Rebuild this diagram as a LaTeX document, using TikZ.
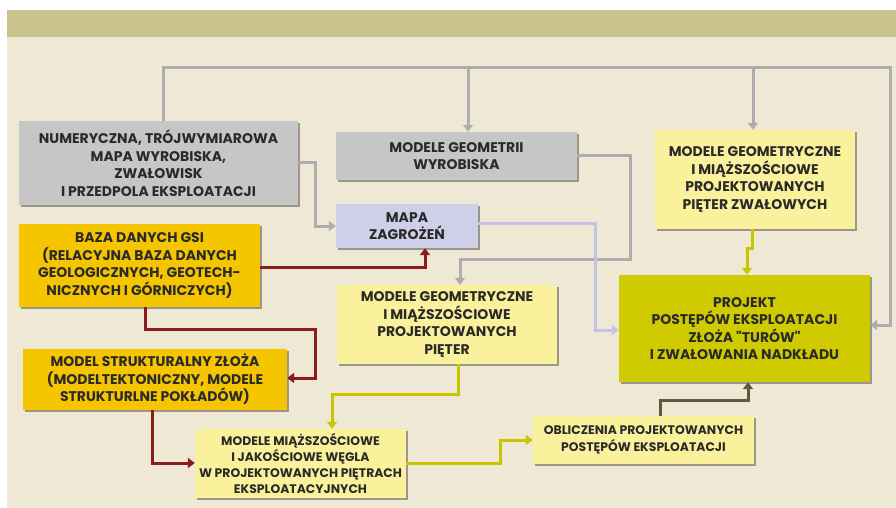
\documentclass[tikz,border=0pt]{standalone}
\usepackage{fontspec}
\setmainfont{Poppins}
\newfontfamily\plainq{Poppins}[Ligatures=NoCommon]
\usetikzlibrary{arrows.meta,shadows}
\definecolor{bgbeige}{HTML}{EEE8D5}
\definecolor{hdr}{HTML}{C9C48B}
\definecolor{grayb}{HTML}{C6C6C6}
\definecolor{lavb}{HTML}{CFCFEA}
\definecolor{goldb}{HTML}{F5C500}
\definecolor{lyelb}{HTML}{FAF19C}
\definecolor{oliveb}{HTML}{CFCB00}
\definecolor{grayc}{HTML}{ADADAD}
\definecolor{lavc}{HTML}{C3C3E3}
\definecolor{redc}{HTML}{8A1C1C}
\definecolor{yelc}{HTML}{C9C500}
\definecolor{olivec}{HTML}{5E5A3E}
\definecolor{txt}{HTML}{2A2A2A}
\newcommand{\sq}{{\plainq\bfseries "}}
\tikzset{
  box/.style={draw=none, inner sep=0pt, align=center, text=txt,
    font=\fontsize{14}{17.5}\selectfont\bfseries,
    drop shadow={shadow xshift=1.8pt, shadow yshift=-1.8pt, fill=black, opacity=0.35}},
  conn/.style={line width=3pt, -{Triangle[length=7pt,width=10pt]}},
  grayconn/.style={conn, draw=grayc},
  lavconn/.style={conn, draw=lavc},
  redconn/.style={conn, draw=redc},
  yelconn/.style={conn, draw=yelc},
  oliveconn/.style={conn, draw=olivec},
}
\begin{document}
\begin{tikzpicture}[x=1pt,y=-1pt]
\useasboundingbox (0,0) rectangle (896,508);
\fill[white] (0,0) rectangle (896,508);
\fill[bgbeige] (7,37) rectangle (896,508);
\fill[hdr] (7,10) rectangle (896,37);

% coordinates for connector bends
\coordinate (tl) at (163,68);
\coordinate (tr) at (890,68);
\coordinate (r1) at (890,325);
\coordinate (br1) at (468,68);
\coordinate (br2) at (753,68);
\coordinate (c1) at (315,162);
\coordinate (c2) at (630,155);
\coordinate (c2b) at (630,259);
\coordinate (c2c) at (460,259);
\coordinate (c3) at (595,223);
\coordinate (c3d) at (595,330);
\coordinate (c4) at (425,267);
\coordinate (c5a) at (145,329);
\coordinate (c5b) at (315,329);
\coordinate (c5c) at (315,378);
\coordinate (c6) at (152,463);
\coordinate (c7a) at (458,394);
\coordinate (c7b) at (332,394);
\coordinate (c8a) at (500,463);
\coordinate (c8b) at (500,440);
\coordinate (c9a) at (752,248);
\coordinate (c9b) at (747,248);
\coordinate (c10a) at (660,400);
\coordinate (c10b) at (748,400);

% boxes
\node[box, fill=grayb, minimum width=279, minimum height=84] (b1) at (158.5,163)
  {NUMERYCZNA, TRÓJWYMIAROWA\\MAPA WYROBISKA,\\ZWAŁOWISK\\I PRZEDPOLA EKSPLOATACJI};
\node[box, fill=grayb, minimum width=241, minimum height=48, font=\fontsize{14}{16.5}\selectfont\bfseries] (b2) at (456.5,156)
  {MODELE GEOMETRII\\WYROBISKA};
\node[box, fill=lavb, minimum width=142, minimum height=44] (b3) at (407,226)
  {MAPA\\ZAGROŻEŃ};
\node[box, fill=goldb, minimum width=241, minimum height=83] (b4) at (139.5,265.5)
  {BAZA DANYCH GSI\\(RELACYJNA BAZA DANYCH\\GEOLOGICZNYCH, GEOTECH-\\NICZNYCH I GÓRNICZYCH)};
\node[box, fill=goldb, minimum width=264, minimum height=61] (b5) at (155,379.5)
  {MODEL STRUKTURALNY ZŁOŻA\\(MODELTEKTONICZNY, MODELE\\STRUKTURLNE POKŁADÓW)};
\node[box, fill=lyelb, minimum width=220, minimum height=79] (b6) at (447,324.5)
  {MODELE GEOMETRYCZNE\\I MIĄŻSZOŚCIOWE\\PROJEKTOWANYCH\\PIĘTER};
\node[box, fill=lyelb, minimum width=211, minimum height=69, font=\fontsize{12.4}{16}\selectfont\bfseries] (b7) at (300.5,463.5)
  {MODELE MIĄŻSZOŚCIOWE\\I JAKOŚCIOWE WĘGLA\\W PROJEKTOWANYCH PIĘTRACH\\EKSPLOATACYJNYCH};
\node[box, fill=lyelb, minimum width=221, minimum height=48, font=\fontsize{12.4}{17}\selectfont\bfseries] (b8) at (643.5,440)
  {OBLICZENIA PROJEKTOWANYCH\\POSTĘPÓW EKSPLOATACJI};
\node[box, fill=lyelb, minimum width=200, minimum height=99] (b9) at (755,179.5)
  {MODELE GEOMETRYCZNE\\I MIĄŻSZOŚCIOWE\\PROJEKTOWANYCH\\PIĘTER ZWAŁOWYCH};
\node[box, fill=oliveb, minimum width=251, minimum height=107] (b10) at (744.5,328.5)
  {PROJEKT\\POSTĘPÓW EKSPLOATACJI\\ZŁOŻA \sq TURÓW\sq\\I ZWAŁOWANIA NADKŁADU};

% gray connectors
\draw[grayconn] (tl |- b1.north) -- (tl) -- (tr) -- (r1) -- (r1 -| b10.east);
\draw[grayconn] (br1) -- (br1 |- b2.north);
\draw[grayconn] (br2) -- (br2 |- b9.north);
\draw[grayconn] (c1 -| b1.east) -- (c1) |- (b3.west);
\draw[grayconn] (c2 -| b2.east) -- (c2) -- (c2b) -- (c2c) -- (c2c |- b6.north);
% lavender
\draw[lavconn] (c3 -| b3.east) -- (c3) -- (c3d) -- (c3d -| b10.west);
% red
\draw[redconn] (c4 -| b4.east) -- (c4) -- (c4 |- b3.south);
\draw[redconn] (c5a |- b4.south) -- (c5a) -- (c5b) -- (c5c) -- (c5c -| b5.east);
\draw[redconn] (c6 |- b5.south) -- (c6) -- (c6 -| b7.west);
% yellow
\draw[yelconn] (c7a |- b6.south) -- (c7a) -- (c7b) -- (c7b |- b7.north);
\draw[yelconn] (c8a -| b7.east) -- (c8a) -- (c8b) -- (c8b -| b8.west);
\draw[yelconn] (c9a |- b9.south) -- (c9a) -- (c9b) -- (c9b |- b10.north);
% olive
\draw[oliveconn] (c10a |- b8.north) -- (c10a) -- (c10b) -- (c10b |- b10.south);
\end{tikzpicture}
\end{document}
